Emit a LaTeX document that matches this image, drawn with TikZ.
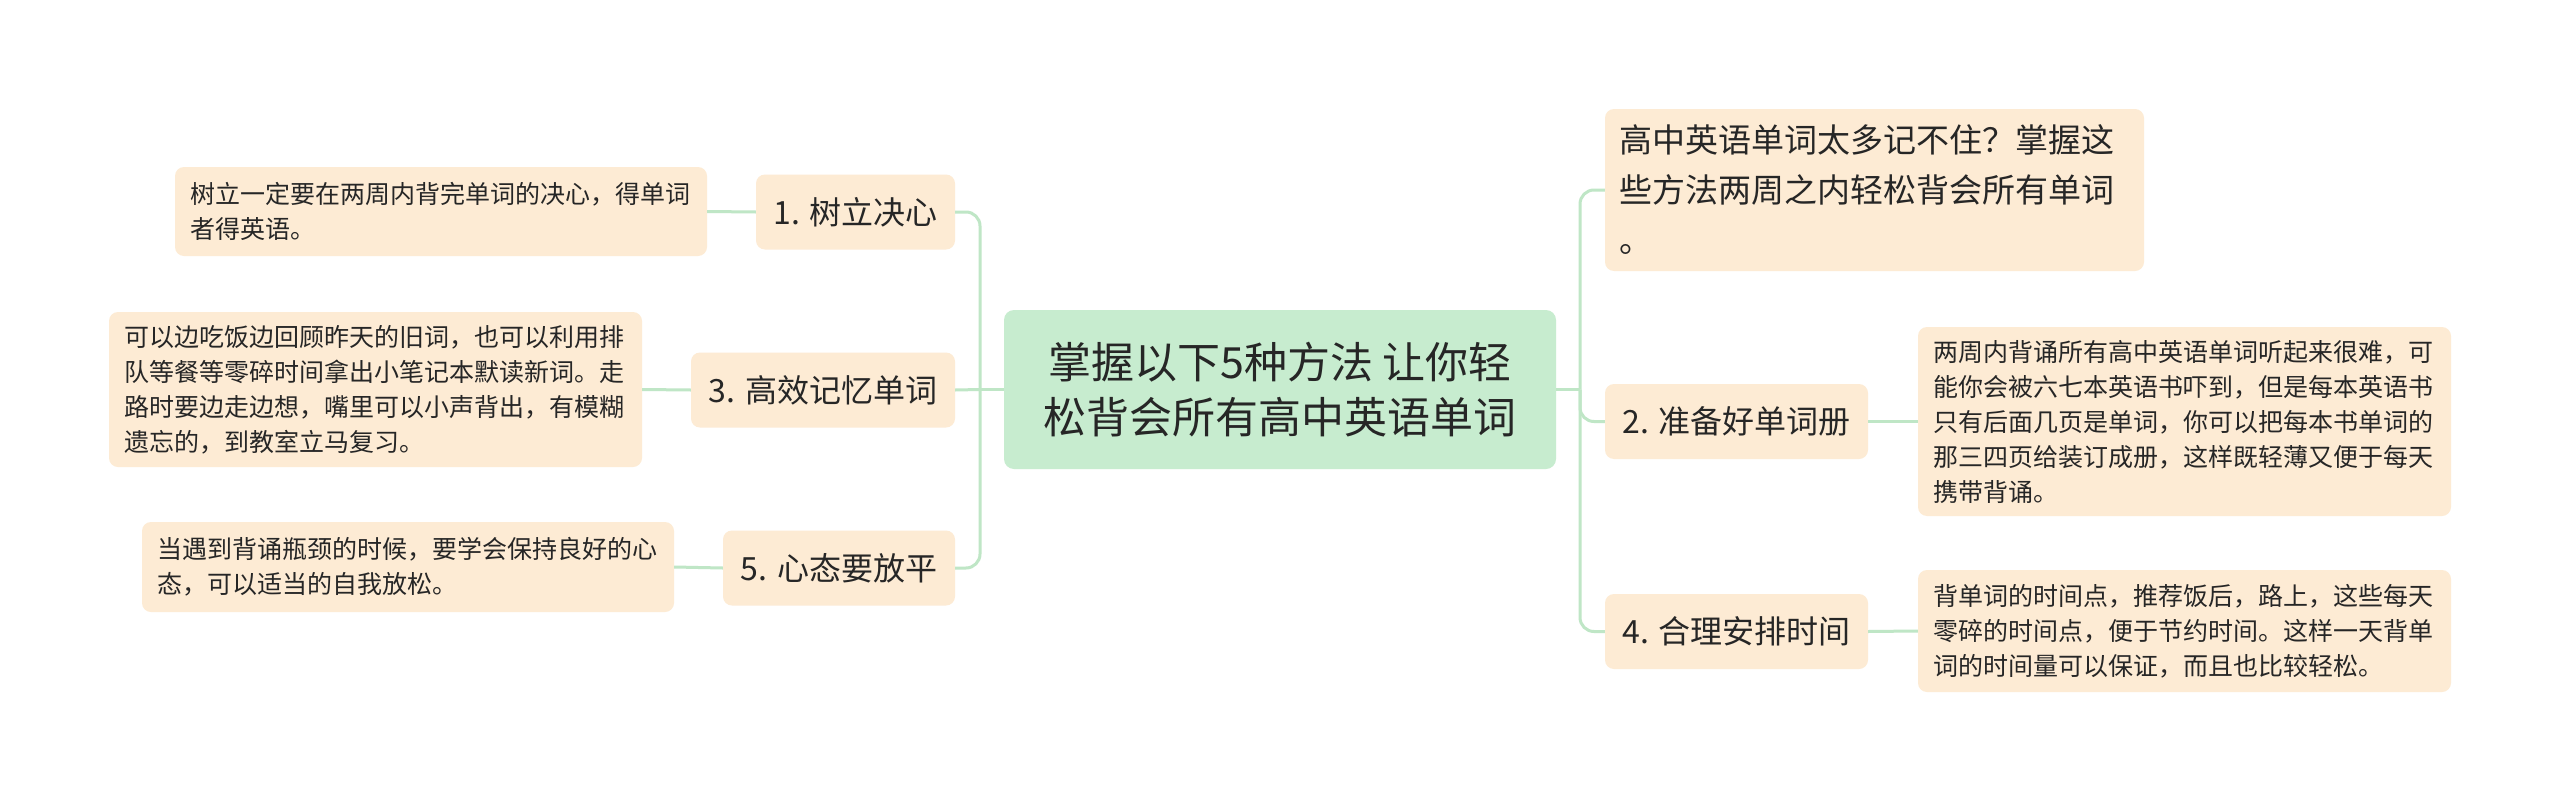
\documentclass[tikz,border=0pt]{standalone}
\usepackage{fontspec}
\setmainfont{Noto Sans CJK SC}
\definecolor{peach}{HTML}{FDEBD4}
\definecolor{mint}{HTML}{C7ECCF}
\definecolor{lgreen}{HTML}{BFE6C6}
\definecolor{txt}{HTML}{262626}
\begin{document}
\begin{tikzpicture}[x=1pt,y=-1pt,
  box/.style={fill=peach, rounded corners=9pt, inner sep=0pt, text=txt},
  leaf/.style={box, align=left, font=\fontsize{25}{35}\selectfont},
  branch/.style={box, align=center, font=\fontsize{32}{40}\selectfont, minimum height=75pt},
  root/.style={fill=mint, rounded corners=10pt, inner sep=0pt, text=txt, align=center, font=\fontsize{43}{55}\selectfont},
  conn/.style={draw=lgreen, line width=3pt},
  trunk/.style={conn, rounded corners=14pt}]
\useasboundingbox (0,0) rectangle (2560,803);
\fill[white] (0,0) rectangle (2560,803);

% root
\node[root, minimum width=552pt, minimum height=159pt] (c) at (1280,389.5)
  {掌握以下5种方法 让你轻\\松背会所有高中英语单词};

% left branches
\node[branch, minimum width=199pt] (b1) at (855.5,212) {1. 树立决心};
\node[branch, minimum width=264pt] (b3) at (823,390) {3. 高效记忆单词};
\node[branch, minimum width=232pt] (b5) at (839,568) {5. 心态要放平};

\node[leaf, minimum width=532pt, minimum height=89pt, text width=502pt] (l1) at (441,211.5)
  {树立一定要在两周内背完单词的决心，得单词\\者得英语。};
\node[leaf, minimum width=533pt, minimum height=155pt, text width=502pt] (l3) at (375.5,389.5)
  {可以边吃饭边回顾昨天的旧词，也可以利用排\\队等餐等零碎时间拿出小笔记本默读新词。走\\路时要边走边想，嘴里可以小声背出，有模糊\\遗忘的，到教室立马复习。};
\node[leaf, minimum width=532pt, minimum height=90pt, text width=502pt] (l5) at (408,567)
  {当遇到背诵瓶颈的时候，要学会保持良好的心\\态，可以适当的自我放松。};

% right branches
\node[box, align=left, font=\fontsize{33}{50}\selectfont, minimum width=539pt, minimum height=162pt, text width=511pt] (r0) at (1874.5,190)
  {高中英语单词太多记不住？掌握这\\些方法两周之内轻松背会所有单词\\。};
\node[branch, minimum width=263pt] (b2) at (1736.5,421.5) {2. 准备好单词册};
\node[branch, minimum width=263pt] (b4) at (1736.5,631.5) {4. 合理安排时间};

\node[leaf, minimum width=533pt, minimum height=189pt, text width=502pt] (l2) at (2184.5,421.5)
  {两周内背诵所有高中英语单词听起来很难，可\\能你会被六七本英语书吓到，但是每本英语书\\只有后面几页是单词，你可以把每本书单词的\\那三四页给装订成册，这样既轻薄又便于每天\\携带背诵。};
\node[leaf, minimum width=533pt, minimum height=122pt, text width=502pt] (l4) at (2184.5,631)
  {背单词的时间点，推荐饭后，路上，这些每天\\零碎的时间点，便于节约时间。这样一天背单\\词的时间量可以保证，而且也比较轻松。};

% connectors
\coordinate (Lj) at (980,389.5);
\coordinate (Rj) at (1580,389.5);
\draw[conn] (c.west) -- (Lj);
\draw[trunk] (Lj) |- (b1.east);
\draw[conn] (Lj) -- (b3.east);
\draw[trunk] (Lj) |- (b5.east);
\draw[conn] (b1.west) -- (l1.east);
\draw[conn] (b3.west) -- (l3.east);
\draw[conn] (b5.west) -- (l5.east);

\draw[conn] (c.east) -- (Rj);
\draw[trunk] (Rj) |- (r0.west);
\draw[trunk] (Rj) |- (b2.west);
\draw[trunk] (Rj) |- (b4.west);
\draw[conn] (b2.east) -- (l2.west);
\draw[conn] (b4.east) -- (l4.west);
\end{tikzpicture}
\end{document}
